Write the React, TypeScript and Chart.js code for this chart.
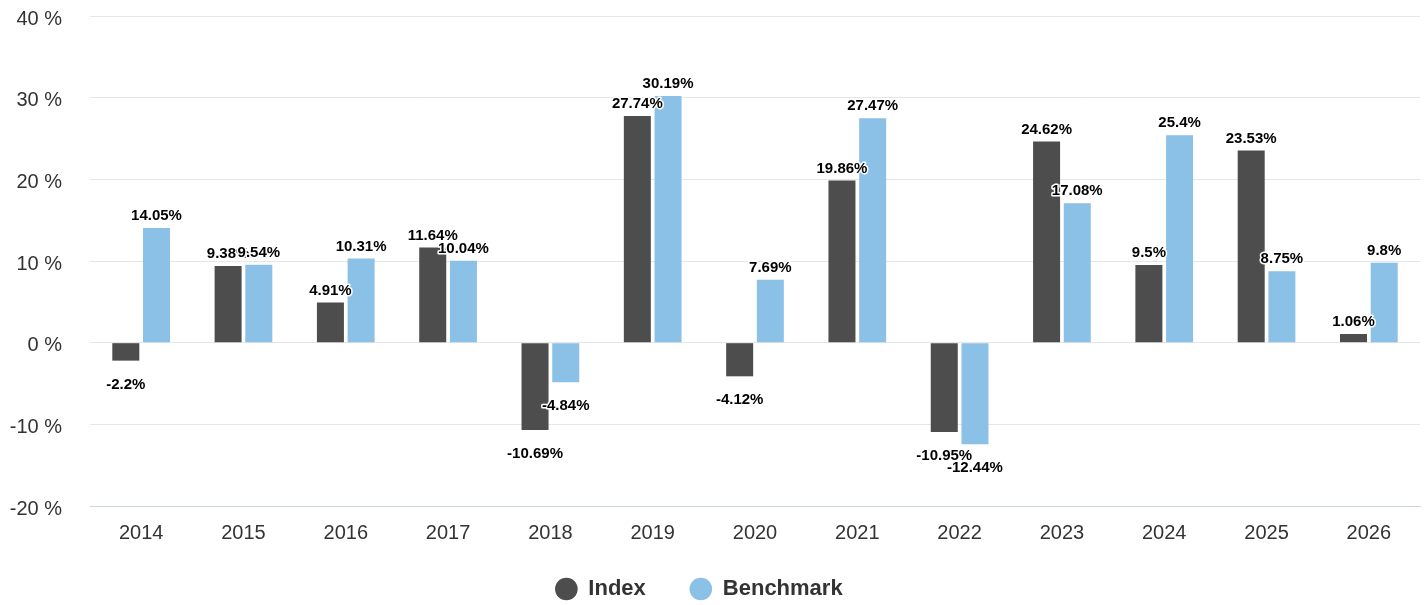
import React, { useEffect, useRef } from "react";
import { Chart, registerables } from "chart.js";

Chart.register(...registerables);

const categories = ["2014", "2015", "2016", "2017", "2018", "2019", "2020", "2021", "2022", "2023", "2024", "2025", "2026"];
const indexValues = [-2.2, 9.38, 4.91, 11.64, -10.69, 27.74, -4.12, 19.86, -10.95, 24.62, 9.5, 23.53, 1.06];
const benchmarkValues = [14.05, 9.54, 10.31, 10.04, -4.84, 30.19, 7.69, 27.47, -12.44, 17.08, 25.4, 8.75, 9.8];

const FONT = "'Liberation Sans', Arial, Helvetica, sans-serif";

const labelPlugin = {
  id: "barLabels",
  afterDatasetsDraw(chart: any) {
    const ctx = chart.ctx;
    ctx.save();
    ctx.font = `bold 15px ${FONT}`;
    ctx.textAlign = "center";
    ctx.textBaseline = "middle";
    ctx.lineJoin = "round";
    chart.data.datasets.forEach((ds: any, di: number) => {
      const meta = chart.getDatasetMeta(di);
      meta.data.forEach((el: any, i: number) => {
        const v = ds.data[i];
        const text = `${v}%`;
        const y = v >= 0 ? el.y - 12 : el.y + 24;
        ctx.lineWidth = 3;
        ctx.strokeStyle = "#ffffff";
        ctx.strokeText(text, el.x, y);
        ctx.fillStyle = "#000000";
        ctx.fillText(text, el.x, y);
      });
    });
    ctx.restore();
  },
};

export default function App() {
  const ref = useRef<HTMLCanvasElement>(null);
  useEffect(() => {
    if (!ref.current) return;
    const chart = new Chart(ref.current, {
      type: "bar",
      data: {
        labels: categories,
        datasets: [
          { label: "Index", data: indexValues, backgroundColor: "#4d4d4d", borderWidth: 0, categoryPercentage: 0.6, barPercentage: 0.88 },
          { label: "Benchmark", data: benchmarkValues, backgroundColor: "#8bc1e6", borderWidth: 0, categoryPercentage: 0.6, barPercentage: 0.88 },
        ],
      },
      options: {
        responsive: true,
        maintainAspectRatio: false,
        animation: false,
        layout: { padding: { top: 0, right: 6, left: -22, bottom: 0 } },
        plugins: {
          tooltip: { enabled: false },
          legend: {
            position: "bottom",
            maxHeight: 71,
            labels: {
              usePointStyle: true,
              pointStyle: "circle",
              boxHeight: 16,
              boxWidth: 22,
              padding: 44,
              color: "#333333",
              font: { family: FONT, size: 22, weight: "bold" },
            },
          },
        },
        scales: {
          x: {
            afterFit(scale: any) {
              // keep tick labels unclipped below the short axis box
              scale._computeLabelArea = () => undefined;
            },
            grid: { display: false, drawTicks: true, tickLength: 26 },
            border: { display: true, color: "#ccd6eb", width: 1 },
            ticks: { color: "#333333", font: { family: FONT, size: 20, lineHeight: 0.1 }, padding: 0, maxRotation: 0 },
          },
          y: {
            min: -20,
            max: 40,
            afterFit(scale: any) { scale.width = 112; },
            grid: { color: "#e6e6e6", lineWidth: 1, drawTicks: true, tickLength: 24, tickColor: "rgba(0,0,0,0)" },
            border: { display: false },
            ticks: {
              stepSize: 10,
              padding: 4,
              labelOffset: 3,
              color: "#333333",
              font: { family: FONT, size: 20 },
              callback: (v: any) => `${v} %`,
            },
          },
        },
      },
      plugins: [labelPlugin],
    });
    return () => chart.destroy();
  }, []);
  return (
    <div style={{ position: "absolute", left: 0, top: 0, width: 1426, height: 605 }}>
      <canvas ref={ref} />
    </div>
  );
}
